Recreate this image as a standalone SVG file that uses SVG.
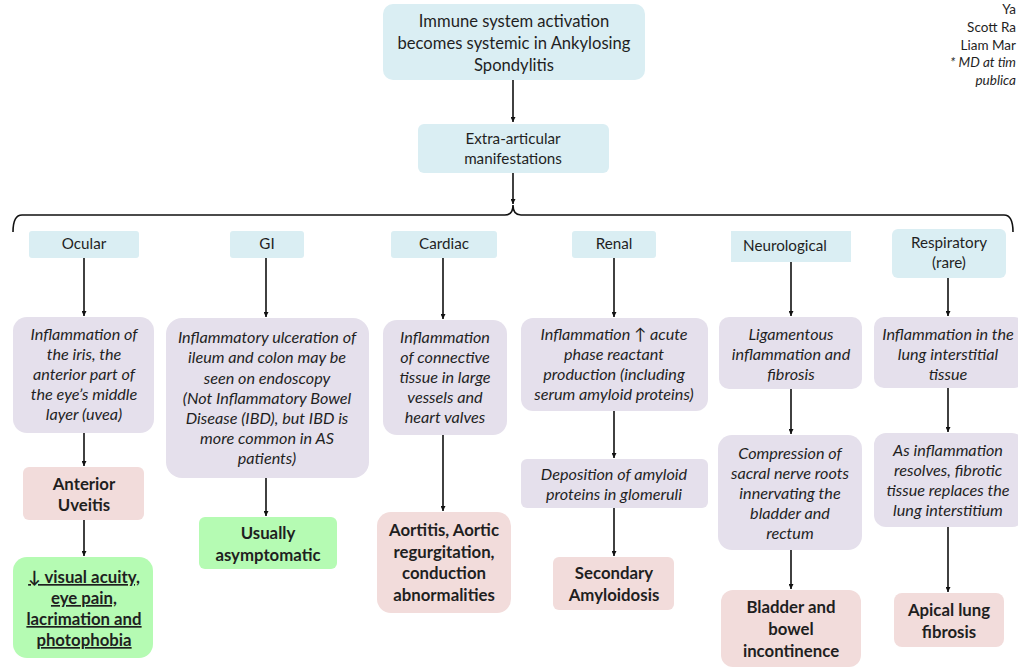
<svg xmlns="http://www.w3.org/2000/svg" width="1018" height="669" viewBox="0 0 1018 669">
<defs>
<marker id="ah" viewBox="0 0 10 10" refX="10" refY="5" markerWidth="5" markerHeight="5" orient="auto" markerUnits="userSpaceOnUse">
<path d="M0,0 L10,5 L0,10 z" fill="#111"/>
</marker>
<style>
.blue{fill:#daeef3}
.lav{fill:#e5e0ec}
.pink{fill:#f2dcdb}
.green{fill:#b5fbb3}
text{font-family:Lato,"Liberation Sans",sans-serif;fill:#1f1f1f;text-anchor:middle}
.h{font-size:16.6px}
.c{font-size:15.2px}
.i{font-size:16.2px;font-style:italic}
.b{font-size:16.8px;font-weight:bold}
.u{text-decoration:underline}
.tr{font-size:13.5px;text-anchor:end}
.tri{font-size:13.5px;text-anchor:end;font-style:italic}
.ln{stroke:#111;stroke-width:1.6;fill:none}
</style>
</defs>
<rect width="1018" height="669" fill="#ffffff"/>

<g id="author">
<text class="tr" x="1016" y="14">Ya</text>
<text class="tr" x="1016" y="32">Scott Ra</text>
<text class="tr" x="1016" y="50">Liam Mar</text>
<text class="tri" x="1016" y="67">* MD at tim</text>
<text class="tri" x="1016" y="85">publica</text>
</g>

<g id="connectors">
<line class="ln" x1="513" y1="80" x2="513" y2="122" marker-end="url(#ah)"/>
<line class="ln" x1="513" y1="173" x2="513" y2="204" marker-end="url(#ah)"/>
<path class="ln" d="M13,232 Q13,215 22,215 L505,215 Q513,215 513,205 Q513,215 521,215 L1004,215 Q1013,215 1013,232"/>
<line class="ln" x1="84" y1="258" x2="84" y2="316" marker-end="url(#ah)"/>
<line class="ln" x1="266" y1="258" x2="266" y2="317" marker-end="url(#ah)"/>
<line class="ln" x1="443" y1="258" x2="443" y2="319" marker-end="url(#ah)"/>
<line class="ln" x1="614" y1="258" x2="614" y2="317" marker-end="url(#ah)"/>
<line class="ln" x1="791" y1="262" x2="791" y2="316" marker-end="url(#ah)"/>
<line class="ln" x1="948" y1="278" x2="948" y2="316" marker-end="url(#ah)"/>
<line class="ln" x1="84" y1="433" x2="84" y2="466" marker-end="url(#ah)"/>
<line class="ln" x1="84" y1="520" x2="84" y2="556" marker-end="url(#ah)"/>
<line class="ln" x1="266" y1="478" x2="266" y2="516" marker-end="url(#ah)"/>
<line class="ln" x1="443" y1="435" x2="443" y2="511" marker-end="url(#ah)"/>
<line class="ln" x1="614" y1="411" x2="614" y2="458" marker-end="url(#ah)"/>
<line class="ln" x1="614" y1="508" x2="614" y2="556" marker-end="url(#ah)"/>
<line class="ln" x1="791" y1="389" x2="791" y2="434" marker-end="url(#ah)"/>
<line class="ln" x1="791" y1="550" x2="791" y2="589" marker-end="url(#ah)"/>
<line class="ln" x1="948" y1="388" x2="948" y2="432" marker-end="url(#ah)"/>
<line class="ln" x1="948" y1="527" x2="948" y2="592" marker-end="url(#ah)"/>
</g>

<g id="root">
<rect class="blue" x="383" y="4" width="262" height="76" rx="10"/>
<text class="h" x="514" y="27">Immune system activation</text>
<text class="h" x="514" y="49">becomes systemic in Ankylosing</text>
<text class="h" x="514" y="71">Spondylitis</text>
</g>
<g id="extra">
<rect class="blue" x="418" y="124" width="191" height="49" rx="6"/>
<text class="c" x="513" y="144">Extra-articular</text>
<text class="c" x="513" y="164">manifestations</text>
</g>

<g id="cat-ocular"><rect class="blue" x="29" y="231" width="110" height="27" rx="3"/><text class="c" x="84" y="249">Ocular</text></g>
<g id="cat-gi"><rect class="blue" x="230" y="231" width="74" height="27" rx="3"/><text class="c" x="267" y="249">GI</text></g>
<g id="cat-cardiac"><rect class="blue" x="391" y="231" width="106" height="27" rx="3"/><text class="c" x="444" y="249">Cardiac</text></g>
<g id="cat-renal"><rect class="blue" x="572" y="231" width="84" height="27" rx="3"/><text class="c" x="614" y="249">Renal</text></g>
<g id="cat-neuro"><rect class="blue" x="731" y="231" width="120" height="31" rx="0"/><text class="c" x="785" y="251">Neurological</text></g>
<g id="cat-resp"><rect class="blue" x="892" y="229" width="114" height="49" rx="6"/><text class="c" x="949" y="248">Respiratory</text><text class="c" x="949" y="268">(rare)</text></g>

<g id="ocular-1">
<rect class="lav" x="13" y="317" width="141" height="116" rx="14"/>
<text class="i" x="84" y="340">Inflammation of</text>
<text class="i" x="84" y="360">the iris, the</text>
<text class="i" x="84" y="380">anterior part of</text>
<text class="i" x="84" y="400">the eye’s middle</text>
<text class="i" x="84" y="420">layer (uvea)</text>
</g>
<g id="ocular-2">
<rect class="pink" x="23" y="467" width="121" height="53" rx="6"/>
<text class="b" x="84" y="490">Anterior</text>
<text class="b" x="84" y="511">Uveitis</text>
</g>
<g id="ocular-3">
<rect class="green" x="13" y="557" width="140" height="101" rx="14"/>
<text class="b u" x="84" y="583">↓ visual acuity,</text>
<text class="b u" x="84" y="604">eye pain,</text>
<text class="b u" x="84" y="625">lacrimation and</text>
<text class="b u" x="84" y="646">photophobia</text>
</g>

<g id="gi-1">
<rect class="lav" x="166" y="318" width="203" height="160" rx="16"/>
<text class="i" x="267" y="343">Inflammatory ulceration of</text>
<text class="i" x="267" y="363">ileum and colon may be</text>
<text class="i" x="267" y="384">seen on endoscopy</text>
<text class="i" x="267" y="404">(Not Inflammatory Bowel</text>
<text class="i" x="267" y="424">Disease (IBD), but IBD is</text>
<text class="i" x="267" y="444">more common in AS</text>
<text class="i" x="267" y="464">patients)</text>
</g>
<g id="gi-2">
<rect class="green" x="199" y="517" width="138" height="52" rx="6"/>
<text class="b" x="268" y="539">Usually</text>
<text class="b" x="268" y="561">asymptomatic</text>
</g>

<g id="cardiac-1">
<rect class="lav" x="383" y="320" width="124" height="115" rx="14"/>
<text class="i" x="445" y="343">Inflammation</text>
<text class="i" x="445" y="363">of connective</text>
<text class="i" x="445" y="383">tissue in large</text>
<text class="i" x="445" y="403">vessels and</text>
<text class="i" x="445" y="423">heart valves</text>
</g>
<g id="cardiac-2">
<rect class="pink" x="377" y="512" width="134" height="101" rx="14"/>
<text class="b" x="444" y="536">Aortitis, Aortic</text>
<text class="b" x="444" y="558">regurgitation,</text>
<text class="b" x="444" y="579">conduction</text>
<text class="b" x="444" y="601">abnormalities</text>
</g>

<g id="renal-1">
<rect class="lav" x="521" y="318" width="187" height="93" rx="12"/>
<text class="i" x="614" y="340">Inflammation ↑ acute</text>
<text class="i" x="614" y="360">phase reactant</text>
<text class="i" x="614" y="380">production (including</text>
<text class="i" x="614" y="400">serum amyloid proteins)</text>
</g>
<g id="renal-2">
<rect class="lav" x="521" y="459" width="187" height="49" rx="6"/>
<text class="i" x="614" y="480">Deposition of amyloid</text>
<text class="i" x="614" y="500">proteins in glomeruli</text>
</g>
<g id="renal-3">
<rect class="pink" x="553" y="557" width="121" height="53" rx="6"/>
<text class="b" x="614" y="579">Secondary</text>
<text class="b" x="614" y="601">Amyloidosis</text>
</g>

<g id="neuro-1">
<rect class="lav" x="719" y="317" width="143" height="72" rx="10"/>
<text class="i" x="791" y="340">Ligamentous</text>
<text class="i" x="791" y="360">inflammation and</text>
<text class="i" x="791" y="380">fibrosis</text>
</g>
<g id="neuro-2">
<rect class="lav" x="718" y="435" width="144" height="115" rx="14"/>
<text class="i" x="790" y="459">Compression of</text>
<text class="i" x="790" y="479">sacral nerve roots</text>
<text class="i" x="790" y="499">innervating the</text>
<text class="i" x="790" y="519">bladder and</text>
<text class="i" x="790" y="539">rectum</text>
</g>
<g id="neuro-3">
<rect class="pink" x="721" y="590" width="140" height="77" rx="12"/>
<text class="b" x="791" y="613">Bladder and</text>
<text class="b" x="791" y="635">bowel</text>
<text class="b" x="791" y="657">incontinence</text>
</g>

<g id="resp-1">
<rect class="lav" x="874" y="317" width="150" height="71" rx="10"/>
<text class="i" x="948" y="340">Inflammation in the</text>
<text class="i" x="948" y="360">lung interstitial</text>
<text class="i" x="948" y="380">tissue</text>
</g>
<g id="resp-2">
<rect class="lav" x="874" y="433" width="150" height="94" rx="12"/>
<text class="i" x="948" y="456">As inflammation</text>
<text class="i" x="948" y="476">resolves, fibrotic</text>
<text class="i" x="948" y="496">tissue replaces the</text>
<text class="i" x="948" y="516">lung interstitium</text>
</g>
<g id="resp-3">
<rect class="pink" x="894" y="593" width="110" height="54" rx="8"/>
<text class="b" x="949" y="616">Apical lung</text>
<text class="b" x="949" y="638">fibrosis</text>
</g>
</svg>
